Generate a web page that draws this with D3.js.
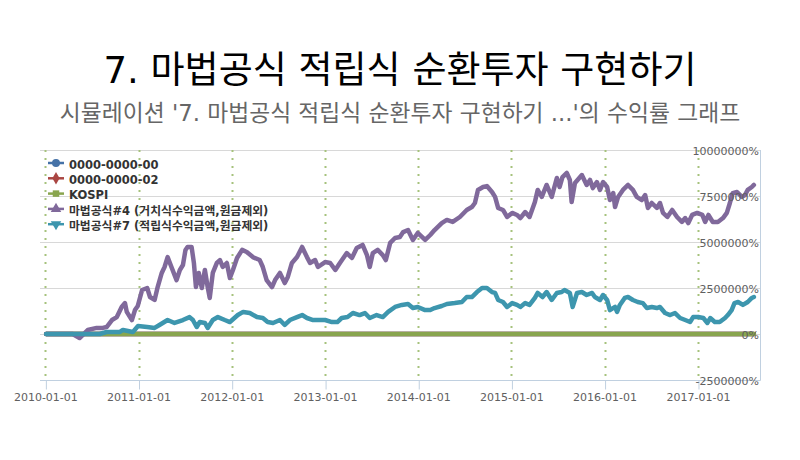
<!DOCTYPE html>
<html><head><meta charset="utf-8">
<script src="https://cdn.jsdelivr.net/npm/d3@7"></script>
<style>body{margin:0;background:#fff}svg{display:block}</style>
</head><body><svg id="c" width="800" height="460"></svg>
<script>
const titleText = "7. 마법공식 적립식 순환투자 구현하기";
const subtitleText = "시뮬레이션 '7. 마법공식 적립식 순환투자 구현하기 ...'의 수익률 그래프";
const seriesNames = ["0000-0000-00","0000-0000-02","KOSPI","마법공식#4 (거치식수익금액,원금제외)","마법공식#7 (적립식수익금액,원금제외)"];
const seriesColors = ["#4572A7","#AA4643","#89A54E","#80699B","#3D96AE"];
const seriesSymbols = ["circle","diamond","square","triangle","triangle-down"];
const xTickLabels = ["2010-01-01","2011-01-01","2012-01-01","2013-01-01","2014-01-01","2015-01-01","2016-01-01","2017-01-01"];
const yTicks = [-2500000,0,2500000,5000000,7500000,10000000];

const flatDates = ["2010-01-04","2011-01-03","2012-01-02","2013-01-02","2014-01-02","2015-01-02","2016-01-04","2017-01-02","2017-08-08"];
const acct00Values = [0,0,0,0,0,0,0,0,0];
const acct02Values = [0,0,0,0,0,0,0,0,0];
const kospiValues = [0,0,0,0,0,0,0,0,0];

const magic4Dates = ["2010-01-04","2010-04-18","2010-05-15","2010-06-04","2010-06-16","2010-07-21","2010-08-14","2010-08-29","2010-09-19","2010-10-08","2010-10-27","2010-11-09","2010-11-16","2010-12-06","2010-12-18","2010-12-29",
"2011-01-15","2011-02-04","2011-02-15","2011-03-05","2011-03-17","2011-04-02","2011-04-13","2011-04-25","2011-05-10","2011-05-22","2011-05-30","2011-06-12","2011-06-24","2011-07-04","2011-07-12","2011-07-28","2011-08-06","2011-08-14","2011-08-25","2011-09-06","2011-09-18","2011-09-29","2011-10-07","2011-10-19","2011-11-04","2011-11-16","2011-11-27","2011-12-13","2011-12-25",
"2012-01-06","2012-01-22","2012-02-11","2012-02-29","2012-03-24","2012-04-20","2012-05-02","2012-05-17","2012-06-07","2012-06-19","2012-07-08","2012-07-27","2012-08-08","2012-08-24","2012-09-13","2012-10-03","2012-10-22","2012-11-03","2012-11-23","2012-12-04",
"2013-01-01","2013-01-21","2013-02-10","2013-02-28","2013-03-27","2013-04-16","2013-05-05","2013-05-28","2013-06-14","2013-06-25","2013-07-07","2013-07-26","2013-08-15","2013-08-27","2013-09-13","2013-10-02","2013-10-21","2013-11-03","2013-11-22","2013-12-11","2013-12-30",
"2014-01-28","2014-02-17","2014-03-06","2014-04-03","2014-04-23","2014-05-16","2014-06-13","2014-07-10","2014-07-30","2014-08-11","2014-08-23","2014-09-12","2014-09-27","2014-10-17","2014-10-29","2014-11-10","2014-11-29","2014-12-15",
"2015-01-04","2015-01-23","2015-02-05","2015-02-24","2015-03-13","2015-04-03","2015-04-14","2015-04-30","2015-05-19","2015-06-08","2015-06-28","2015-07-09","2015-07-20","2015-08-06","2015-08-18","2015-08-25","2015-09-07","2015-10-04","2015-10-23","2015-11-05","2015-11-16","2015-12-02","2015-12-14","2015-12-26",
"2016-01-11","2016-01-22","2016-02-04","2016-02-11","2016-02-23","2016-03-13","2016-04-02","2016-04-21","2016-05-06","2016-05-26","2016-06-08","2016-06-19","2016-07-04","2016-07-24","2016-08-05","2016-08-17","2016-09-03","2016-09-22","2016-10-11","2016-10-30","2016-11-12","2016-11-24","2016-12-09","2016-12-29",
"2017-01-18","2017-01-29","2017-02-11","2017-02-28","2017-03-20","2017-04-09","2017-04-24","2017-05-06","2017-05-17","2017-06-03","2017-06-22","2017-07-04","2017-07-15","2017-07-31","2017-08-08"];
const magic4Values = [0,0,-220000,50000,220000,330000,330000,380000,760000,920000,1470000,1680000,1200000,760000,1300000,1520000,
2390000,2500000,2010000,1850000,2550000,3320000,3640000,4180000,3640000,3210000,2930000,3480000,3750000,4570000,4730000,4730000,3860000,2550000,3320000,2500000,3480000,2550000,1960000,3320000,3860000,4020000,3640000,3860000,3040000,
3480000,4130000,4570000,4460000,4180000,4020000,3640000,2930000,2550000,2930000,3320000,2770000,3100000,3860000,4180000,4730000,4180000,3860000,4020000,3640000,
3910000,3860000,3480000,3860000,4400000,4130000,4670000,4840000,4290000,3640000,4400000,4570000,4290000,4020000,4950000,5220000,5270000,5540000,5650000,5110000,5490000,
5110000,5380000,5650000,6030000,6200000,6090000,6360000,6740000,6900000,7120000,7830000,7990000,8040000,7720000,7450000,6850000,6740000,6360000,
6580000,6470000,6300000,6630000,6360000,7170000,7830000,7450000,8100000,7450000,8480000,7990000,8530000,8750000,8370000,7170000,8210000,8640000,8100000,8370000,7930000,8260000,7830000,8260000,
7990000,7280000,7660000,6900000,7450000,7830000,8100000,7830000,7450000,7280000,7550000,6850000,7120000,6850000,7120000,6580000,6360000,6740000,6360000,6090000,6300000,6030000,6470000,6580000,
6470000,6090000,6470000,6090000,6090000,6300000,6580000,7120000,7660000,7720000,7450000,7550000,7830000,7990000,8100000];

const magic7Dates = ["2010-01-04","2010-08-02","2010-08-29","2010-10-20","2010-11-01","2010-12-10","2010-12-30",
"2011-02-04","2011-03-05","2011-03-24","2011-04-25","2011-05-22","2011-06-24","2011-07-20","2011-08-02","2011-08-17","2011-08-29","2011-09-18","2011-09-29","2011-10-19","2011-11-08","2011-12-05","2011-12-25",
"2012-01-25","2012-02-15","2012-03-12","2012-04-09","2012-05-02","2012-05-21","2012-06-11","2012-07-08","2012-07-27","2012-08-16","2012-09-13","2012-10-03","2012-10-22","2012-11-15","2012-12-12",
"2013-01-01","2013-01-28","2013-02-18","2013-03-07","2013-03-30","2013-04-20","2013-05-16","2013-06-06","2013-06-25","2013-07-22","2013-08-15","2013-09-05","2013-10-02","2013-10-29","2013-11-22","2013-12-11","2013-12-30",
"2014-01-28","2014-02-17","2014-03-06","2014-04-03","2014-04-23","2014-05-24","2014-06-21","2014-07-10","2014-07-30","2014-08-19","2014-09-08","2014-09-27","2014-10-17","2014-10-29","2014-11-10","2014-11-29","2014-12-15",
"2015-01-04","2015-01-23","2015-02-05","2015-02-24","2015-03-13","2015-04-03","2015-04-14","2015-05-03","2015-05-19","2015-06-08","2015-06-28","2015-07-17","2015-07-28","2015-08-18","2015-08-29","2015-09-15","2015-10-04","2015-10-23","2015-11-13","2015-11-24","2015-12-14","2015-12-26",
"2016-01-11","2016-01-22","2016-02-11","2016-02-19","2016-03-01","2016-03-20","2016-04-02","2016-04-21","2016-05-10","2016-05-30","2016-06-15","2016-07-04","2016-07-24","2016-08-05","2016-08-25","2016-09-14","2016-10-03","2016-10-23","2016-11-12","2016-12-01","2016-12-13",
"2017-01-02","2017-01-22","2017-02-07","2017-02-18","2017-03-08","2017-03-27","2017-04-17","2017-04-28","2017-05-13","2017-05-24","2017-06-07","2017-06-26","2017-07-15","2017-07-31","2017-08-08"];
const magic7Values = [0,0,110000,110000,220000,110000,430000,
380000,330000,490000,760000,600000,760000,920000,760000,380000,650000,600000,330000,760000,920000,760000,650000,
1030000,1200000,1140000,920000,870000,650000,600000,760000,490000,760000,920000,1030000,870000,760000,760000,
760000,650000,650000,870000,920000,1140000,1030000,1140000,870000,1030000,920000,1200000,1470000,1580000,1630000,1410000,1470000,
1300000,1300000,1410000,1520000,1630000,1680000,1740000,2010000,2010000,2280000,2500000,2500000,2280000,2230000,1850000,1740000,1470000,
1680000,1580000,1470000,1680000,1580000,1960000,2230000,2010000,2280000,1850000,2230000,2280000,2390000,2230000,1470000,2230000,2280000,2120000,2230000,2010000,1850000,2120000,
1850000,1300000,1470000,1200000,1580000,1960000,2010000,1850000,1740000,1680000,1410000,1470000,1410000,1470000,1140000,1030000,1140000,870000,760000,650000,920000,
920000,870000,600000,870000,650000,650000,870000,1030000,1300000,1680000,1740000,1580000,1740000,1960000,2010000];

// ---------- drawing ----------
const svg = d3.select("#c");
const parse = d3.timeParse("%Y-%m-%d");
const FONT = "'DejaVu Sans','Noto Sans CJK KR',sans-serif";
const plot = {left:40, right:760, top:150, bottom:380};

const x = d3.scaleTime().domain([new Date(2009,11,11), new Date(2017,8,1)]).range([plot.left, plot.right]);
const y = d3.scaleLinear().domain([-2500000, 10000000]).range([plot.bottom, plot.top]);

svg.append("rect").attr("width",800).attr("height",460).attr("fill","#fff");

svg.append("text").attr("x",400).attr("y",83).attr("text-anchor","middle")
  .attr("font-family",FONT).attr("font-size",37).attr("fill","#000").text(titleText);
svg.append("text").attr("x",400).attr("y",121).attr("text-anchor","middle")
  .attr("font-family",FONT).attr("font-size",22.8).attr("fill","#666").text(subtitleText);

// horizontal grid
svg.append("g").selectAll("line").data(yTicks.filter(v=>v>-2500000)).join("line")
  .attr("x1",plot.left).attr("x2",plot.right)
  .attr("y1",d=>Math.round(y(d))+0.5).attr("y2",d=>Math.round(y(d))+0.5)
  .attr("stroke","#d8d8d8").attr("stroke-width",1);

// vertical dotted year lines
const tickDates = xTickLabels.map(parse);
svg.append("g").selectAll("line").data(tickDates).join("line")
  .attr("x1",d=>Math.round(x(d))+0.5).attr("x2",d=>Math.round(x(d))+0.5)
  .attr("y1",plot.top).attr("y2",plot.bottom-3)
  .attr("stroke","#a6c27c").attr("stroke-width",2).attr("stroke-dasharray","2,6");

// x axis
const xAxis = d3.axisBottom(x).tickValues(tickDates).tickFormat(d3.timeFormat("%Y-%m-%d")).tickSize(9).tickPadding(4);
const gx = svg.append("g").attr("transform",`translate(0,${plot.bottom+0.5})`).call(xAxis);
gx.select(".domain").remove();
gx.selectAll(".tick line").attr("stroke","#C0D0E0").attr("transform","translate(0.5,0)");
gx.selectAll(".tick text").attr("font-family",FONT).attr("font-size",11).attr("fill","#606060");
svg.append("line").attr("x1",plot.left).attr("x2",plot.right+0.5).attr("y1",plot.bottom+0.5).attr("y2",plot.bottom+0.5).attr("stroke","#C0D0E0");
svg.append("line").attr("x1",plot.right+0.5).attr("x2",plot.right+0.5).attr("y1",plot.top).attr("y2",plot.bottom+0.5).attr("stroke","#C0D0E0");

// series
const mk = (ds, vs) => ds.map((d,i)=>({date:parse(d), value:vs[i]}));
const seriesData = [
  mk(flatDates, acct00Values),
  mk(flatDates, acct02Values),
  mk(flatDates, kospiValues),
  mk(magic4Dates, magic4Values),
  mk(magic7Dates, magic7Values)
];
const line = d3.line().x(d=>x(d.date)).y(d=>y(d.value));
svg.append("g").selectAll("path").data(seriesData).join("path")
  .attr("d",line).attr("fill","none")
  .attr("stroke",(d,i)=>seriesColors[i]).attr("stroke-width",4.5)
  .attr("stroke-linejoin","round").attr("stroke-linecap","round");

// y labels (drawn above series)
const yAxis = d3.axisLeft(y).tickValues(yTicks).tickFormat(d=>d+"%").tickSize(0).tickPadding(1);
const gy = svg.append("g").attr("transform",`translate(${plot.right},1)`).call(yAxis);
gy.select(".domain").remove();
gy.selectAll(".tick text").attr("font-family",FONT).attr("font-size",11).attr("fill","#606060");

// legend
const symbolType = {circle:d3.symbolCircle, diamond:d3.symbolDiamond, square:d3.symbolSquare, triangle:d3.symbolTriangle};
const lg = svg.append("g");
const runs = s => s.match(/[\uAC00-\uD7A3]+|[^\uAC00-\uD7A3]+/g);
seriesNames.forEach((name,i)=>{
  const cy = 163 + i*15.3;
  const g = lg.append("g").attr("transform",`translate(0,${cy})`);
  g.append("line").attr("x1",48).attr("x2",64).attr("y1",0).attr("y2",0).attr("stroke",seriesColors[i]).attr("stroke-width",2.5);
  const s = seriesSymbols[i];
  let sym;
  if (s === "triangle-down") sym = d3.symbol(d3.symbolTriangle, 48);
  else sym = d3.symbol(symbolType[s], s==="circle"?50:(s==="diamond"?45:(s==="square"?42:48)));
  g.append("path").attr("d",sym()).attr("fill",seriesColors[i])
    .attr("transform",`translate(56,0)${s==="triangle-down"?" rotate(180)":""}`);
  const t = g.append("text").attr("x",69).attr("y",0).attr("dy","0.36em")
    .attr("font-family",FONT).attr("font-weight","bold").attr("fill","#333");
  runs(name).forEach(r=>{
    const isK = /[\uAC00-\uD7A3]/.test(r);
    t.append("tspan").attr("font-size", isK ? 11.8 : 11.5).text(r);
  });
});
</script></body></html>
